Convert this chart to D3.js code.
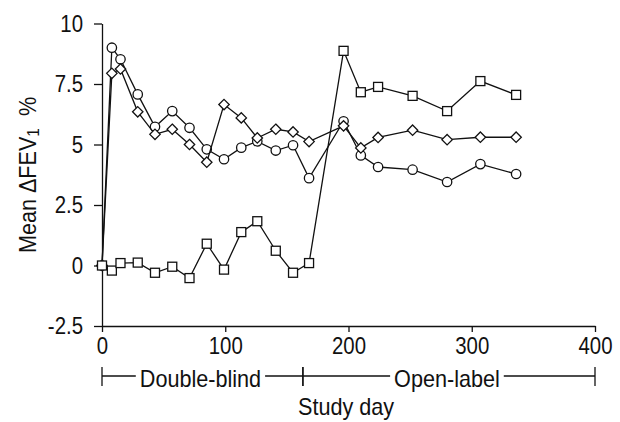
<!DOCTYPE html>
<html>
<head>
<meta charset="utf-8">
<script src="https://cdn.jsdelivr.net/npm/d3@7"></script>
<style>
  body { margin: 0; background: #fff; }
  text { font-family: "Liberation Sans", Arial, sans-serif; fill: #111; }
</style>
</head>
<body>
<div id="chart"></div>
<script>
// study days (shared by all three series)
var days = [0, 8, 15, 29, 43, 57, 71, 85, 99, 113, 126, 141, 155, 168, 196, 210, 224, 252, 280, 307, 336];

// mean change in FEV1 (%)
var circleValues  = [0, 9.0, 8.52, 7.07, 5.73, 6.38, 5.69, 4.80, 4.39, 4.87, 5.13, 4.75, 4.97, 3.61, 5.96, 4.55, 4.07, 3.96, 3.45, 4.19, 3.78];
var diamondValues = [0, 7.94, 8.12, 6.35, 5.42, 5.63, 5.0, 4.27, 6.65, 6.10, 5.27, 5.63, 5.52, 5.12, 5.77, 4.86, 5.29, 5.59, 5.20, 5.30, 5.30];
var squareValues  = [0, -0.21, 0.1, 0.12, -0.3, -0.05, -0.52, 0.9, -0.17, 1.38, 1.83, 0.61, -0.3, 0.1, 8.87, 7.16, 7.38, 7.01, 6.38, 7.62, 7.05];

// axis ticks
var yTicks = [-2.5, 0, 2.5, 5, 7.5, 10];
var xTicks = [0, 100, 200, 300, 400];

// study phases: [start day, end day, label]
var phases = [[0, 163, "Double-blind"], [163, 400, "Open-label"]];

var svgWidth = 620;
var svgHeight = 422;

var svg = d3.select("#chart").append("svg")
  .attr("width", svgWidth)
  .attr("height", svgHeight);

var xScale = d3.scaleLinear().domain([0, 400]).range([102, 595]);
var yScale = d3.scaleLinear().domain([-2.5, 10]).range([326, 23.5]);

// axes
var yAxis = d3.axisLeft(yScale)
  .tickValues(yTicks)
  .tickFormat(d => String(d))
  .tickSizeInner(8)
  .tickSizeOuter(0)
  .tickPadding(11);

var xAxis = d3.axisBottom(xScale)
  .tickValues(xTicks)
  .tickFormat(d => String(d))
  .tickSizeInner(6)
  .tickSizeOuter(0)
  .tickPadding(5);

var yG = svg.append("g")
  .attr("transform", `translate(${xScale(0)}, 0)`)
  .call(yAxis);

var xG = svg.append("g")
  .attr("transform", `translate(0, ${yScale(-2.5)})`)
  .call(xAxis);

[yG, xG].forEach(function(g) {
  g.selectAll("path, line").attr("stroke", "#111").attr("stroke-width", 1.3);
  g.selectAll("text").attr("font-size", "24px").attr("fill", "#111")
    .style("font-family", "'Liberation Sans', Arial, sans-serif");
});

// series
var line = d3.line()
  .x((d, i) => xScale(days[i]))
  .y(d => yScale(d));

function drawSeries(values, shape) {
  var g = svg.append("g");
  g.append("path")
    .attr("d", line(values))
    .attr("fill", "none")
    .attr("stroke", "#111")
    .attr("stroke-width", 1.3);

  var pts = g.selectAll(".pt")
    .data(values)
    .enter();

  var marks;
  if (shape === "circle") {
    marks = pts.append("circle")
      .attr("cx", (d, i) => xScale(days[i]))
      .attr("cy", d => yScale(d))
      .attr("r", 4.7);
  } else if (shape === "diamond") {
    marks = pts.append("path")
      .attr("d", "M0,-5.2L5.2,0L0,5.2L-5.2,0Z")
      .attr("transform", (d, i) => `translate(${xScale(days[i])}, ${yScale(d)})`);
  } else {
    marks = pts.append("rect")
      .attr("x", (d, i) => xScale(days[i]) - 4.5)
      .attr("y", d => yScale(d) - 4.5)
      .attr("width", 9)
      .attr("height", 9);
  }
  marks.attr("fill", "#fff")
    .attr("stroke", "#111")
    .attr("stroke-width", 1.3);
}

drawSeries(circleValues, "circle");
drawSeries(diamondValues, "diamond");
drawSeries(squareValues, "square");

// narrow text to mimic the condensed font of the original
function condense(sel, k) {
  sel.each(function() {
    var w = this.getComputedTextLength();
    d3.select(this)
      .attr("textLength", w * k)
      .attr("lengthAdjust", "spacingAndGlyphs");
  });
}

// phase brackets under the x axis
var bracketY = 376;
var phaseG = svg.append("g");
phases.forEach(function(p) {
  var x0 = xScale(p[0]), x1 = xScale(p[1]);
  var label = phaseG.append("text")
    .attr("x", (x0 + x1) / 2 - 2)
    .attr("y", bracketY + 11)
    .attr("text-anchor", "middle")
    .attr("font-size", "24px")
    .text(p[2]);
  condense(label, 0.9);
  var bb = label.node().getBBox();
  phaseG.append("line")
    .attr("x1", x0).attr("x2", bb.x - 4)
    .attr("y1", bracketY).attr("y2", bracketY);
  phaseG.append("line")
    .attr("x1", bb.x + bb.width + 4).attr("x2", x1)
    .attr("y1", bracketY).attr("y2", bracketY);
  [x0, x1].forEach(function(x) {
    phaseG.append("line")
      .attr("x1", x).attr("x2", x)
      .attr("y1", bracketY - 9).attr("y2", bracketY + 10);
  });
});
phaseG.selectAll("line").attr("stroke", "#111").attr("stroke-width", 1.3);

// axis labels
svg.append("text")
  .attr("x", 346)
  .attr("y", 415)
  .attr("text-anchor", "middle")
  .attr("font-size", "24px")
  .text("Study day");

var yLabel = svg.append("text")
  .attr("transform", "translate(36, 175) rotate(-90)")
  .attr("text-anchor", "middle")
  .attr("font-size", "24px");
yLabel.append("tspan").text("Mean \u0394FEV");
yLabel.append("tspan").attr("font-size", "17px").attr("dy", 3).text("1");
yLabel.append("tspan").attr("dy", -3).text("\u00a0\u00a0%");

condense(svg.selectAll("g.tick text"), 0.85);
condense(svg.selectAll("svg > text"), 0.9);
</script>
</body>
</html>
